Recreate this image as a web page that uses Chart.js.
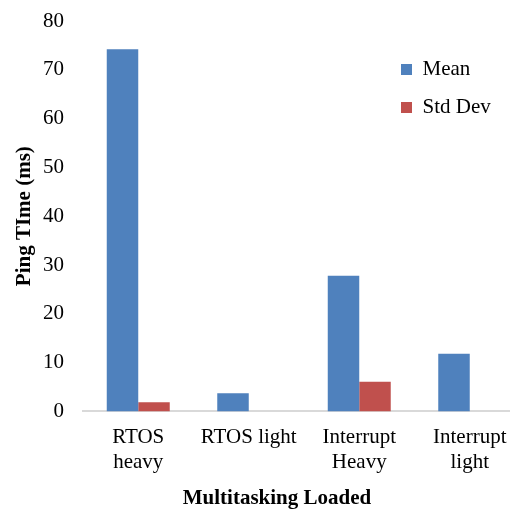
<!DOCTYPE html>
<html>
<head>
<meta charset="utf-8">
<script src="https://cdn.jsdelivr.net/npm/chart.js@4/dist/chart.umd.min.js"></script>
<style>
  html, body { margin: 0; padding: 0; background: #fff; overflow: hidden; }
  /* plot runs a little past the right edge, like the cropped original */
  #wrap { position: relative; width: 525px; height: 511px; }
</style>
</head>
<body>
<div id="wrap"><canvas id="chart"></canvas></div>
<script>
// values
const categories = [["RTOS", "heavy"], ["RTOS light"], ["Interrupt", "Heavy"], ["Interrupt", "light"]];
const meanValues = [74.2, 3.7, 27.8, 11.8];
const stdDevValues = [1.9, 0, 6.1, 0];
const seriesNames = ["Mean", "Std Dev"];
const yTicks = [0, 10, 20, 30, 40, 50, 60, 70, 80];

const serif = "'Times New Roman', 'Liberation Serif', serif";
const textFont = { family: serif, size: 21 };
const boldFont = { family: serif, size: 21, weight: "bold" };

// legend sits inside the plot area, upper right
const legendSpot = {
  id: "legendSpot",
  afterLayout(chart) {
    const lg = chart.legend;
    if (!lg) return;
    const pad = lg.options.labels.padding;
    lg.left = 401 - pad;
    lg.top = 59 - pad;
  },
};

window.addEventListener("load", function () {
  new Chart(document.getElementById("chart"), {
    type: "bar",
    data: {
      labels: categories,
      datasets: [
        { label: seriesNames[0], data: meanValues, backgroundColor: "#4F81BD", borderWidth: 0 },
        { label: seriesNames[1], data: stdDevValues, backgroundColor: "#C0504D", borderWidth: 0 },
      ],
    },
    options: {
      responsive: true,
      maintainAspectRatio: false,
      animation: false,
      categoryPercentage: 0.57,
      barPercentage: 1,
      layout: { padding: { left: 29, right: 0, top: 21, bottom: 0 } },
      plugins: {
        legend: {
          position: "chartArea",
          align: "start",
          labels: { boxWidth: 11, boxHeight: 11, padding: 17, color: "#000", font: textFont },
        },
        title: {
          display: true,
          position: "bottom",
          text: "Multitasking Loaded",
          color: "#000",
          font: boldFont,
          padding: { top: -2, bottom: 0 },
        },
        tooltip: { enabled: false },
      },
      scales: {
        x: {
          grid: { display: false, drawTicks: false },
          border: { display: true, color: "#d9d9d9", width: 2 },
          ticks: { color: "#000", font: textFont, padding: 13, maxRotation: 0, autoSkip: false },
        },
        y: {
          min: 0,
          max: 80,
          afterBuildTicks: (axis) => { axis.ticks = yTicks.map((v) => ({ value: v })); },
          // invisible tick marks keep the labels clear of the bars
          grid: { display: false, drawTicks: true, tickLength: 19, color: "rgba(0,0,0,0)" },
          border: { display: false },
          ticks: { color: "#000", font: textFont, padding: 0 },
          title: {
            display: true,
            text: "Ping TIme (ms)",
            color: "#000",
            font: boldFont,
            padding: { top: -16.6, bottom: 5.4 },
          },
        },
      },
    },
    plugins: [legendSpot],
  });
});
</script>
</body>
</html>
